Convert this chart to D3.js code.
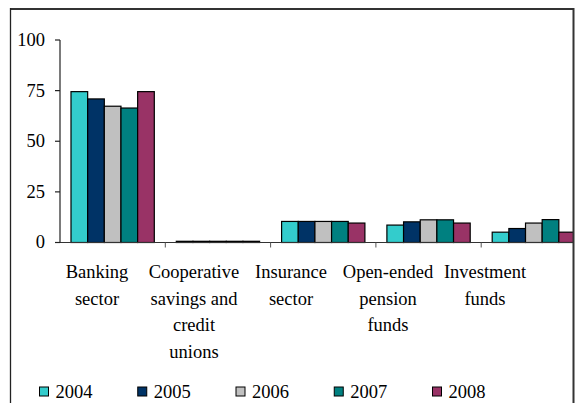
<!DOCTYPE html>
<html>
<head>
<meta charset="utf-8">
<script src="https://cdn.jsdelivr.net/npm/d3@7"></script>
<style>
  html, body { margin: 0; padding: 0; background: #fff; }
  text { font-family: 'Liberation Serif', serif; }
</style>
</head>
<body>
<div id="chart"></div>
<script>
// ---- data ----
const categories = ["Banking sector", "Cooperative savings and credit unions", "Insurance sector", "Open-ended pension funds", "Investment funds"];
const categoryLines = [["Banking", "sector"], ["Cooperative", "savings and", "credit", "unions"], ["Insurance", "sector"], ["Open-ended", "pension", "funds"], ["Investment", "funds"]];
const years = ["2004", "2005", "2006", "2007", "2008"];
const v2004 = [74.5, 0.6, 10.4, 8.6, 5.1];
const v2005 = [70.9, 0.6, 10.4, 10.2, 6.9];
const v2006 = [67.3, 0.6, 10.4, 11.2, 9.6];
const v2007 = [66.4, 0.6, 10.4, 11.2, 11.3];
const v2008 = [74.5, 0.6, 9.6, 9.6, 5.1];
const yTicks = [0, 25, 50, 75, 100];
const colors = ["#33CCCC", "#003366", "#C0C0C0", "#008080", "#993366"];

const series = [v2004, v2005, v2006, v2007, v2008];

// ---- layout ----
const W = 575, H = 403;
const FONT = "18.5px";
const FAMILY = "'Liberation Serif', serif";
const svg = d3.select("#chart").append("svg").attr("width", W).attr("height", H)
  .attr("font-family", "Liberation Serif");

const x = d3.scaleBand().domain(categories).range([60, 586.5]).paddingInner(0).paddingOuter(0);
const inner = d3.scaleBand().domain(years)
  .range([11, x.bandwidth() - 11]).paddingInner(0);
const y = d3.scaleLinear().domain([0, 100]).range([242.5, 40]);

const g = svg.append("g");

// bars
const groups = g.selectAll("g.cat").data(categories).join("g")
  .attr("class", "cat")
  .attr("transform", d => `translate(${x(d)},0)`);

groups.selectAll("rect").data((c, i) => years.map((yr, k) => ({ yr, v: series[k][i], k })))
  .join("rect")
  .attr("x", d => inner(d.yr))
  .attr("width", d => Math.max(0, Math.min(inner.bandwidth(), 572.5 - x(categories[0]) - inner(d.yr))))
  .attr("y", d => y(d.v))
  .attr("height", d => y(0) - y(d.v))
  .attr("fill", d => colors[d.k])
  .attr("stroke", "#000")
  .attr("stroke-width", 1.2);

// x axis line
g.append("line").attr("x1", x.range()[0]).attr("x2", 573).attr("y1", y(0)).attr("y2", y(0))
  .attr("stroke", "#333").attr("stroke-width", 1.2);
// category boundary ticks
g.append("g").selectAll("line").data(categories.slice(1)).join("line")
  .attr("x1", d => x(d)).attr("x2", d => x(d))
  .attr("y1", y(0)).attr("y2", y(0) + 5)
  .attr("stroke", "#555").attr("stroke-width", 1);

// y axis
const ya = svg.append("g").attr("transform", `translate(60,0)`);
ya.append("line").attr("x1", 0).attr("x2", 0).attr("y1", y(100)).attr("y2", y(0))
  .attr("stroke", "#222").attr("stroke-width", 1.2);
ya.selectAll("line.t").data(yTicks).join("line").attr("class", "t")
  .attr("x1", -5).attr("x2", 0).attr("y1", d => y(d)).attr("y2", d => y(d))
  .attr("stroke", "#222").attr("stroke-width", 1.2);
ya.selectAll("text").data(yTicks).join("text")
  .attr("x", -15).attr("y", d => y(d)).attr("dy", "0.32em")
  .attr("text-anchor", "end")
  .attr("font-family", "Liberation Serif")
  .style("font-family", FAMILY)
  .style("font-size", FONT).attr("fill", "#000")
  .text(d => d);

// category labels (evenly spaced label slots as in the reference)
const xl = d3.scaleBand().domain(categories).range([48.5, 533.5]);
const labels = g.append("g").selectAll("text").data(categories).join("text")
  .attr("text-anchor", "middle")
  .attr("font-family", "Liberation Serif")
  .style("font-family", FAMILY)
  .style("font-size", FONT)
  .attr("fill", "#000");
labels.each(function (c, i) {
  d3.select(this).selectAll("tspan").data(categoryLines[i]).join("tspan")
    .attr("x", xl(c) + xl.bandwidth() / 2)
    .attr("y", (d, j) => 278 + j * 26.7)
    .text(d => d);
});

// legend
const lx = d3.scalePoint().domain(years).range([39.5, 432.5]);
const leg = svg.append("g").selectAll("g").data(years).join("g")
  .attr("transform", d => `translate(${lx(d)},387)`);
leg.append("rect").attr("width", 9).attr("height", 9)
  .attr("fill", (d, i) => colors[i]).attr("stroke", "#000").attr("stroke-width", 1);
leg.append("text").attr("x", 16).attr("y", 10.5)
  .attr("font-family", "Liberation Serif")
  .style("font-family", FAMILY)
  .style("font-size", FONT).attr("fill", "#000").text(d => d);

// mask anything past the right frame, then frame
svg.append("rect").attr("x", 573).attr("y", 0).attr("width", 10).attr("height", H).attr("fill", "#fff");
svg.append("line").attr("x1", 10).attr("x2", 574).attr("y1", 9).attr("y2", 9)
  .attr("stroke", "#333").attr("stroke-width", 2);
svg.append("line").attr("x1", 10.5).attr("x2", 10.5).attr("y1", 8).attr("y2", H)
  .attr("stroke", "#222").attr("stroke-width", 1.3);
svg.append("line").attr("x1", 573.5).attr("x2", 573.5).attr("y1", 8).attr("y2", H)
  .attr("stroke", "#333").attr("stroke-width", 2);
</script>
</body>
</html>
